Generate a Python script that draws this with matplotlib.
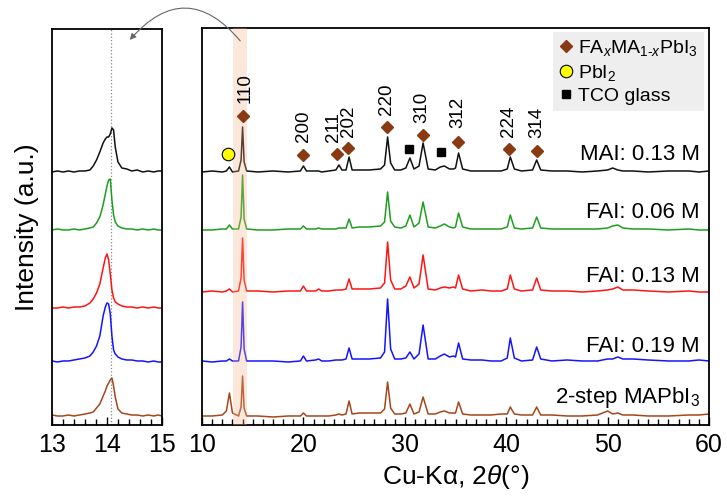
import matplotlib
matplotlib.use("Agg")
import matplotlib.pyplot as plt
from matplotlib.patches import FancyArrowPatch
from matplotlib.ticker import MultipleLocator

plt.rcParams["font.family"] = ["Liberation Sans", "DejaVu Sans"]
plt.rcParams["mathtext.fontset"] = "custom"
plt.rcParams["mathtext.rm"] = "Liberation Sans"
plt.rcParams["mathtext.it"] = "Liberation Sans:italic"

# ---- data (intensity in arbitrary units) ----
SAMPLES = ["MAI: 0.13 M", "FAI: 0.06 M", "FAI: 0.13 M", "FAI: 0.19 M", "2-step MAPbI$_3$"]
COLORS = ["#111111", "#1e9e1e", "#ff1414", "#1414ff", "#a5461c"]

# full pattern, 10-60 deg
two_theta = [10.0, 11.0, 12.0, 12.4, 12.7, 13.0, 13.6, 13.85, 14.0, 14.15,
             14.4, 15.5, 17.0, 18.5, 19.7, 20.0, 20.3, 21.2, 21.5, 21.8,
             22.5, 23.2, 23.5, 23.8, 24.2, 24.5, 24.8, 25.5, 26.5, 27.6,
             28.0, 28.3, 28.6, 29.0, 29.6, 30.1, 30.5, 30.9, 31.4, 31.8,
             32.3, 33.0, 33.5, 33.9, 34.4, 34.8, 35.0, 35.3, 35.7, 36.5,
             37.6, 38.5, 39.5, 40.1, 40.4, 40.8, 41.5, 42.6, 43.0, 43.4,
             44.5, 46.0, 47.5, 49.0, 50.0, 50.5, 51.0, 51.5, 52.5, 54.0,
             56.0, 58.0, 59.0, 60.0]
mai_013 = [0, 1, 0, 1, 5, 0, 1, 12, 45, 10,
           1, 0, 1, 0, 1, 6, 1, 1, 1, 0,
           1, 2, 7, 2, 2, 15, 2, 2, 2, 3,
           7, 35, 9, 2, 2, 4, 14, 3, 6, 29,
           3, 2, 5, 6, 3, 3, 4, 19, 3, 1,
           1, 1, 1, 3, 15, 3, 1, 2, 12, 2,
           1, 1, 0, 1, 2, 4, 2, 1, 1, 0,
           1, 1, 0, 1]
fai_006 = [0, 0, 1, 1, 5, 1, 1, 13, 55, 11,
           1, 0, 0, 1, 1, 4, 1, 1, 2, 1,
           1, 1, 2, 2, 2, 11, 2, 3, 3, 4,
           8, 38, 9, 3, 2, 4, 15, 3, 7, 28,
           3, 2, 4, 6, 3, 2, 3, 17, 3, 1,
           1, 1, 1, 3, 15, 2, 1, 2, 13, 2,
           1, 1, 1, 1, 2, 4, 5, 2, 1, 1,
           0, 1, 0, 0]
fai_013 = [0, 1, 0, 1, 3, 0, 1, 14, 54, 12,
           1, 1, 0, 1, 1, 6, 1, 1, 3, 1,
           1, 2, 2, 2, 3, 13, 3, 3, 3, 4,
           9, 50, 12, 3, 3, 6, 15, 4, 8, 37,
           3, 2, 4, 5, 4, 5, 4, 17, 3, 1,
           2, 1, 1, 3, 17, 3, 1, 2, 14, 2,
           1, 1, 0, 1, 2, 3, 5, 2, 2, 1,
           0, 1, 0, 0]
fai_019 = [1, 0, 1, 1, 3, 1, 1, 15, 60, 13,
           1, 1, 1, 0, 1, 6, 1, 2, 3, 1,
           1, 2, 2, 2, 3, 14, 3, 3, 3, 4,
           10, 63, 13, 3, 3, 4, 10, 3, 8, 37,
           3, 3, 6, 8, 5, 6, 5, 19, 3, 2,
           2, 1, 1, 4, 24, 4, 1, 2, 15, 3,
           1, 2, 1, 1, 3, 3, 5, 3, 3, 2,
           1, 1, 2, 1]
two_step = [1, 1, 2, 6, 24, 4, 1, 10, 41, 9,
            1, 1, 0, 1, 1, 4, 1, 1, 1, 1,
            1, 2, 3, 2, 3, 16, 3, 4, 4, 4,
            8, 35, 9, 3, 3, 4, 13, 3, 5, 20,
            3, 3, 5, 6, 4, 4, 4, 15, 3, 2,
            2, 2, 3, 3, 10, 3, 2, 2, 10, 2,
            2, 1, 1, 2, 6, 3, 4, 2, 2, 1,
            1, 2, 2, 3]
offsets_full = [253, 195, 133, 63, 8]

# zoom on the (110) reflection, 13-15 deg
two_theta_zoom = [13.0, 13.1, 13.2, 13.3, 13.4, 13.5, 13.6, 13.69, 13.75, 13.81,
                  13.87, 13.93, 13.97, 14.0, 14.03, 14.06, 14.09, 14.12, 14.15, 14.2,
                  14.27, 14.36, 14.45, 14.55, 14.65, 14.75, 14.85, 14.93, 15.0]
mai_013_zoom = [0, 1, 0, 1, 0, 1, 1, 2, 6, 12, 20, 29, 33, 35, 35, 38, 44, 42, 25, 10,
                4, 3, 1, 2, 0, 1, 0, 1, 1]
fai_006_zoom = [0, 1, 0, 0, 1, 0, 1, 2, 3, 7, 13, 25, 36, 44, 50, 51, 30, 15, 8, 4,
                2, 1, 1, 0, 1, 0, 1, 0, 0]
fai_013_zoom = [0, 0, 1, 0, 1, 1, 2, 5, 9, 15, 24, 40, 50, 54, 48, 34, 18, 10, 6, 4,
                2, 1, 1, 0, 1, 0, 1, 0, 0]
fai_019_zoom = [1, 0, 1, 1, 2, 3, 4, 6, 10, 16, 26, 46, 55, 59, 58, 48, 26, 12, 8, 5,
                3, 2, 2, 1, 1, 0, 1, 0, 0]
two_step_zoom = [1, 0, 0, 1, 0, 1, 2, 3, 4, 8, 12, 20, 25, 30, 33, 36, 38, 30, 19, 7,
                 3, 2, 1, 1, 0, 1, 0, 1, 0]
offsets_zoom = [253, 195, 117, 63, 9]
ref_110 = 14.07

# reflection markers above the top pattern
hkl_labels = ["110", "200", "211", "202", "220", "310", "312", "224", "314"]
hkl_pos = [14.05, 19.96, 23.3, 24.4, 28.24, 31.8, 35.25, 40.3, 43.0]
hkl_marker_y = [309, 270, 271, 277, 298, 290, 283, 276, 274]
hkl_label_x = [14.25, 19.96, 22.95, 24.45, 28.24, 31.7, 35.25, 40.2, 43.0]
hkl_label_y = [322, 283, 283, 288, 310, 302, 297, 288, 287]
pbi2_pos, pbi2_y = [12.56], [271]
tco_pos, tco_y = [30.4, 33.57], [276, 273]
label_y = [270, 212, 148, 78, 27]

full_series = [mai_013, fai_006, fai_013, fai_019, two_step]
zoom_series = [mai_013_zoom, fai_006_zoom, fai_013_zoom, fai_019_zoom, two_step_zoom]

fig = plt.figure(figsize=(7.27, 4.98), dpi=100)
ax_z = fig.add_axes([0.0715, 0.1466, 0.1513, 0.7952])
ax = fig.add_axes([0.2779, 0.1466, 0.6974, 0.7972])

# left: zoom panel
for ys, off, c in zip(zoom_series, offsets_zoom, COLORS):
    ax_z.plot(two_theta_zoom, [v + off for v in ys], color=c, lw=1.1)
ax_z.axvline(ref_110, color="#888888", ls=":", lw=0.9, zorder=0)
ax_z.set_xlim(13, 15)
ax_z.set_ylim(0, 396)
ax_z.set_xticks([13, 14, 15])
ax_z.xaxis.set_minor_locator(MultipleLocator(0.2))
ax_z.set_yticks([])
ax_z.set_ylabel("Intensity (a.u.)", fontsize=19, labelpad=9)

# right: full pattern
for ys, off, c in zip(full_series, offsets_full, COLORS):
    ax.plot(two_theta, [v + off for v in ys], color=c, lw=1.1)
ax.axvspan(13.1, 14.4, color="#f6b48a", alpha=0.3, lw=0, zorder=3)
ax.set_xlim(10, 60)
ax.set_ylim(0, 397)
ax.set_xticks([10, 20, 30, 40, 50, 60])
ax.xaxis.set_minor_locator(MultipleLocator(1))
ax.set_yticks([])
ax.set_xlabel("Cu-K\u03b1, 2$\\theta$(\u00b0)", fontsize=19, labelpad=4)

ax.plot(hkl_pos, hkl_marker_y, ls="none", marker="D", ms=6.5, color="#8a3a12",
        label="FA$_x$MA$_{1\\text{-}x}$PbI$_3$", zorder=5)
ax.plot(pbi2_pos, pbi2_y, ls="none", marker="o", ms=9, mfc="#ffff00", mec="black",
        mew=0.8, label="PbI$_2$", zorder=5)
ax.plot(tco_pos, tco_y, ls="none", marker="s", ms=5.5, color="black",
        label="TCO glass", zorder=5)

for lab, lx, ly in zip(hkl_labels, hkl_label_x, hkl_label_y):
    ax.text(lx, ly, lab, rotation=90, ha="center", va="bottom", fontsize=13.5)

for name, ly in zip(SAMPLES, label_y):
    ax.text(59.1, ly, name, ha="right", va="center", fontsize=16, zorder=6)

leg = ax.legend(loc="upper right", bbox_to_anchor=(0.99, 0.99), fontsize=14,
                frameon=True, facecolor="#eeeeee", edgecolor="none", framealpha=1,
                fancybox=False, handlelength=0.7, handletextpad=0.3,
                borderpad=0.3, labelspacing=0.25, borderaxespad=0)

for a in (ax_z, ax):
    for s in a.spines.values():
        s.set_linewidth(1.3)
    a.tick_params(axis="x", which="both", direction="in", top=False, labelsize=18, pad=6)
    a.tick_params(axis="x", which="major", length=6, width=1.0)
    a.tick_params(axis="x", which="minor", length=4, width=1.0)

# curved arrow from the highlighted (110) band to the zoom panel
arrow = FancyArrowPatch((242 / 727, 1 - 43 / 498), (128 / 727, 1 - 42 / 498),
                        transform=fig.transFigure, connectionstyle="arc3,rad=0.6",
                        arrowstyle="-|>", mutation_scale=9, color="#666666", lw=0.8)
fig.patches.append(arrow)

fig.savefig("out.png", dpi=100)
